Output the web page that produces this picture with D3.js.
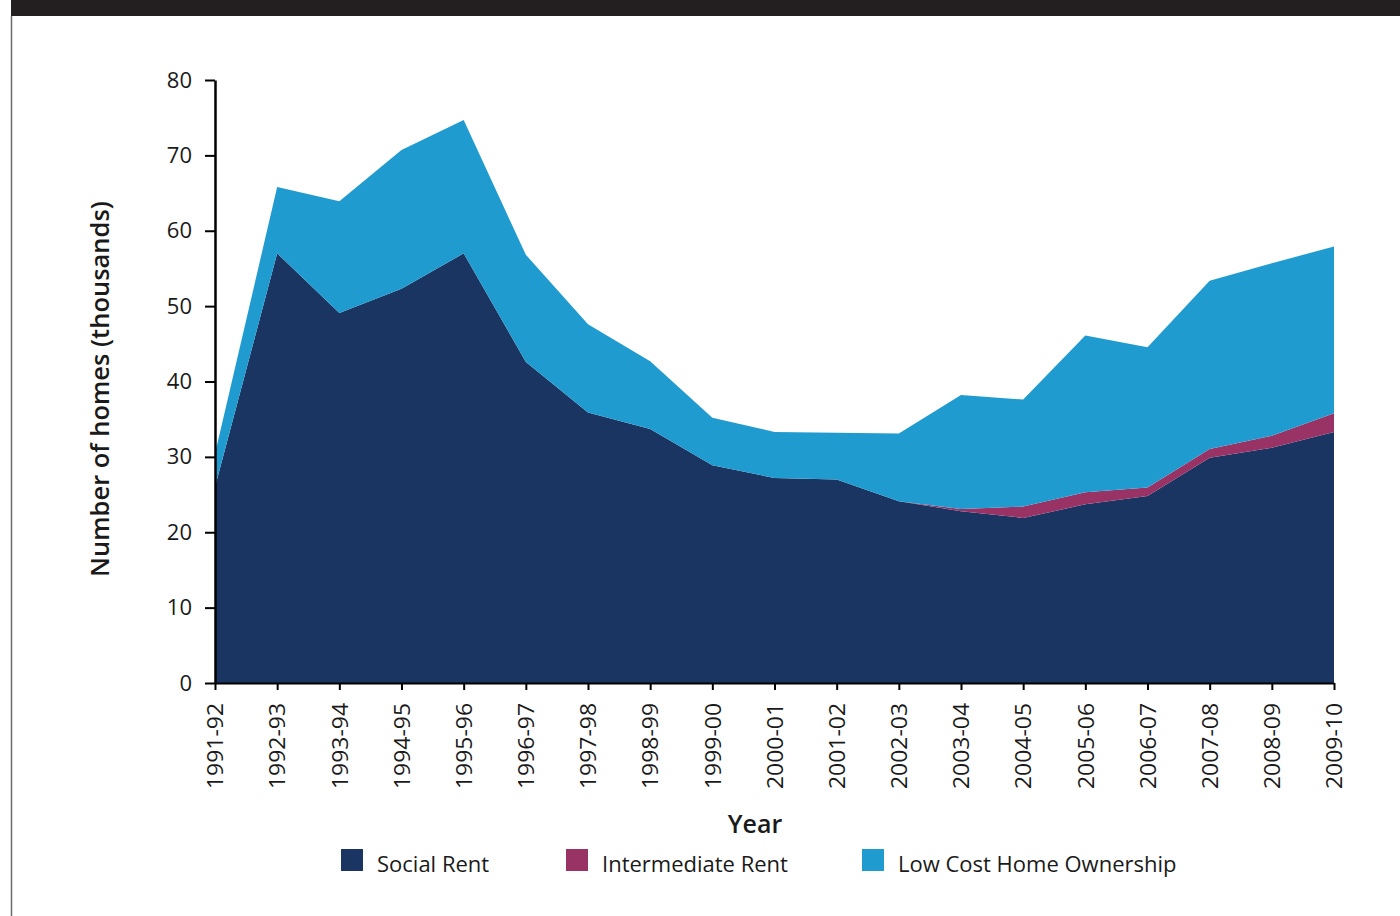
<!DOCTYPE html>
<html>
<head>
<meta charset="utf-8">
<script src="https://cdn.jsdelivr.net/npm/d3@7/dist/d3.min.js"></script>
<style>
  html, body { margin: 0; padding: 0; background: #fff; }
  svg { display: block; }
  text { font-family: "Open Sans", "Noto Sans", sans-serif; fill: #1a1a1a; }
</style>
</head>
<body>
<svg id="chart" width="1400" height="916"></svg>
<script>
// Affordable homes delivered per year, in thousands
const years = ["1991-92","1992-93","1993-94","1994-95","1995-96","1996-97","1997-98","1998-99","1999-00","2000-01","2001-02","2002-03","2003-04","2004-05","2005-06","2006-07","2007-08","2008-09","2009-10"];
const socialRent = [26.0, 57.0, 49.1, 52.3, 57.0, 42.6, 35.9, 33.7, 28.9, 27.2, 27.0, 24.1, 22.8, 21.9, 23.7, 24.8, 29.9, 31.2, 33.3];
const intermediateRent = [0, 0, 0, 0, 0, 0, 0, 0, 0, 0, 0, 0, 0.3, 1.5, 1.6, 1.15, 1.15, 1.6, 2.5];
const lowCostOwnership = [4.4, 8.8, 14.8, 18.4, 17.7, 14.2, 11.7, 9.0, 6.3, 6.1, 6.2, 9.0, 15.1, 14.2, 20.8, 18.6, 22.3, 22.9, 22.1];
const yTicks = [0, 10, 20, 30, 40, 50, 60, 70, 80];
const seriesNames = ["Social Rent", "Intermediate Rent", "Low Cost Home Ownership"];
const seriesColors = ["#1b3563", "#993366", "#1f9bcf"];

const rows = years.map((y, i) => ({
  year: y,
  "Social Rent": socialRent[i],
  "Intermediate Rent": intermediateRent[i],
  "Low Cost Home Ownership": lowCostOwnership[i]
}));

const svg = d3.select("#chart");

// Page frame: dark header strip and left rule
svg.append("rect").attr("x", 11).attr("y", 0).attr("width", 1389).attr("height", 16).attr("fill", "#231f20");
svg.append("line").attr("x1", 11.5).attr("x2", 11.5).attr("y1", 16).attr("y2", 916)
  .attr("stroke", "#6b6b6b").attr("stroke-width", 1.5);

const x = d3.scalePoint().domain(years).range([215, 1334]);
const y = d3.scaleLinear().domain([0, 80]).range([683, 80]);

const stack = d3.stack().keys(seriesNames);
const layers = stack(rows);

const area = d3.area()
  .x(d => x(d.data.year))
  .y0(d => y(d[0]))
  .y1(d => y(d[1]));

svg.append("g").selectAll("path")
  .data(layers)
  .join("path")
  .attr("d", area)
  .attr("fill", (d, i) => seriesColors[i]);

// Y axis
const yAxis = svg.append("g")
  .attr("transform", "translate(215,0)")
  .call(d3.axisLeft(y).tickValues(yTicks).tickSize(10).tickSizeOuter(0).tickPadding(13));
yAxis.select(".domain").attr("stroke", "#000").attr("stroke-width", 2.5);
yAxis.selectAll(".tick line").attr("stroke", "#000").attr("stroke-width", 2);
yAxis.selectAll(".tick text").style("font-size", "22px").attr("fill", "#1a1a1a");

// X axis
const xAxis = svg.append("g")
  .attr("transform", "translate(0,683)")
  .call(d3.axisBottom(x).tickSize(7).tickSizeOuter(0));
xAxis.select(".domain").attr("stroke", "#000").attr("stroke-width", 2);
xAxis.selectAll(".tick line").attr("stroke", "#000").attr("stroke-width", 2);
xAxis.selectAll(".tick text")
  .style("font-size", "22px")
  .attr("fill", "#1a1a1a")
  .attr("text-anchor", "end")
  .attr("dy", "0.35em")
  .attr("x", -20)
  .attr("y", 0)
  .attr("transform", "rotate(-90)")
  .attr("textLength", 86)
  .attr("lengthAdjust", "spacingAndGlyphs");

// Axis titles
svg.append("text")
  .attr("transform", "translate(109,389) rotate(-90)")
  .attr("text-anchor", "middle")
  .style("font-size", "25.5px")
  .style("font-weight", 600)
  .text("Number of homes (thousands)");

svg.append("text")
  .attr("x", 755).attr("y", 833)
  .attr("text-anchor", "middle")
  .style("font-size", "25px")
  .style("font-weight", 600)
  .text("Year");

// Legend
const legendX = [341, 566, 862];
const legend = svg.append("g").selectAll("g")
  .data(seriesNames)
  .join("g")
  .attr("transform", (d, i) => `translate(${legendX[i]},849)`);
legend.append("rect").attr("width", 22).attr("height", 22).attr("fill", (d, i) => seriesColors[i]);
legend.append("text")
  .attr("x", 36).attr("y", 15).attr("dy", "0.35em")
  .style("font-size", "22px")
  .text(d => d);
</script>
</body>
</html>
